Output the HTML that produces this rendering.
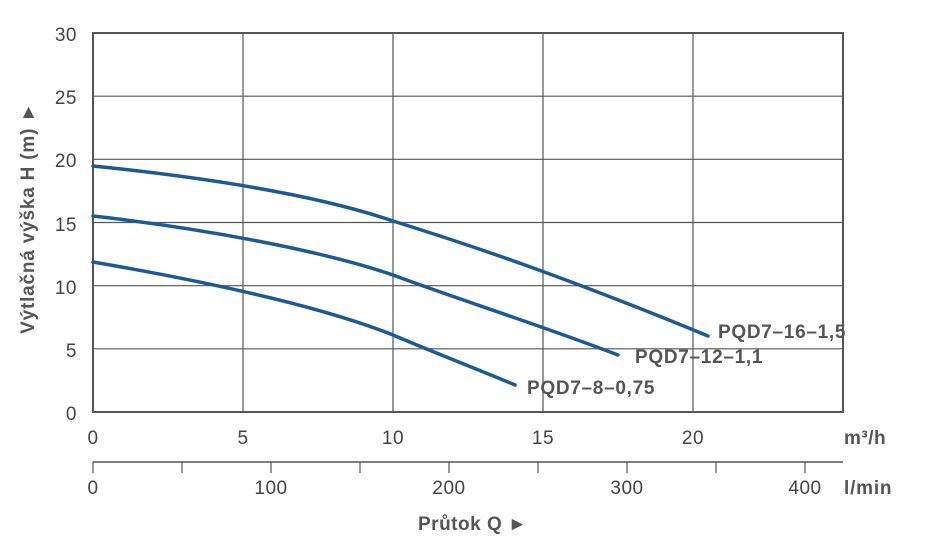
<!DOCTYPE html>
<html><head><meta charset="utf-8"><style>
html,body{margin:0;padding:0;background:#fff}
svg{display:block;font-family:"Liberation Sans",Arial,sans-serif}
</style></head><body>
<svg width="934" height="555" viewBox="0 0 934 555" xmlns="http://www.w3.org/2000/svg">
<g stroke="#555" stroke-width="1.2" fill="none">
<line x1="93" y1="96.2" x2="843" y2="96.2"/>
<line x1="93" y1="159.3" x2="843" y2="159.3"/>
<line x1="93" y1="222.5" x2="843" y2="222.5"/>
<line x1="93" y1="285.7" x2="843" y2="285.7"/>
<line x1="93" y1="348.8" x2="843" y2="348.8"/>
<line x1="243" y1="33" x2="243" y2="412"/>
<line x1="393" y1="33" x2="393" y2="412"/>
<line x1="543" y1="33" x2="543" y2="412"/>
<line x1="693" y1="33" x2="693" y2="412"/>
</g>
<rect x="93" y="33" width="750" height="379" fill="none" stroke="#555" stroke-width="2"/>
<g stroke="#1a5a96" stroke-width="3.5" fill="none" stroke-linecap="round">
<path d="M93,166 C210,178 320,196 393,221 C470,245 560,275 708,336"/>
<path d="M93,216 C200,228 320,250 393,275 C460,300 540,325 618,355"/>
<path d="M93,262 C180,277 310,302 393,335 C440,355 480,370 515,385"/>
</g>
<g fill="#444" font-size="19" text-anchor="end" letter-spacing="0.5">
<text x="77" y="41">30</text><text x="77" y="104">25</text><text x="77" y="167">20</text>
<text x="77" y="231">15</text><text x="77" y="294">10</text><text x="77" y="357">5</text><text x="77" y="420">0</text>
</g>
<g fill="#444" font-size="19" text-anchor="middle" letter-spacing="0.5">
<text x="93" y="444">0</text><text x="243" y="444">5</text><text x="393" y="444">10</text>
<text x="543" y="444">15</text><text x="693" y="444">20</text>
<text x="93" y="494">0</text><text x="271" y="494">100</text><text x="449" y="494">200</text>
<text x="627" y="494">300</text><text x="805" y="494">400</text>
</g>
<line x1="93" y1="462" x2="843" y2="462" stroke="#555" stroke-width="1.5"/>
<g stroke="#555" stroke-width="1.2">
<line x1="93" y1="462" x2="93" y2="473"/><line x1="182" y1="462" x2="182" y2="473"/>
<line x1="271" y1="462" x2="271" y2="473"/><line x1="360" y1="462" x2="360" y2="473"/>
<line x1="449" y1="462" x2="449" y2="473"/><line x1="538" y1="462" x2="538" y2="473"/>
<line x1="627" y1="462" x2="627" y2="473"/><line x1="716" y1="462" x2="716" y2="473"/>
<line x1="805" y1="462" x2="805" y2="473"/>
</g>
<g fill="#555" font-size="19" font-weight="bold">
<text x="844" y="444" letter-spacing="0.5">m³/h</text>
<text x="844" y="494" letter-spacing="0.8">l/min</text>
<text x="418" y="530" letter-spacing="0.5">Průtok Q ►</text>
<text x="718" y="338" letter-spacing="0.7">PQD7–16–1,5</text>
<text x="635" y="363" letter-spacing="0.7">PQD7–12–1,1</text>
<text x="527" y="394" letter-spacing="0.7">PQD7–8–0,75</text>
<text transform="translate(34,218) rotate(-90)" text-anchor="middle" letter-spacing="0.8">Výtlačná výška H (m) ►</text>
</g>
</svg>
</body></html>
